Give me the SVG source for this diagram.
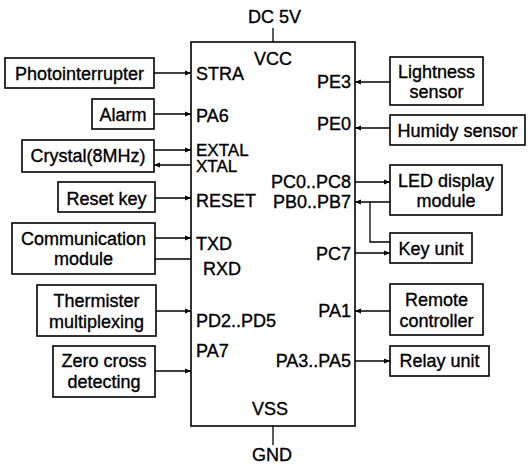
<svg xmlns="http://www.w3.org/2000/svg" width="528" height="465" viewBox="0 0 528 465">
<defs>
<style>
.box{fill:#fff;stroke:#000;stroke-width:1.6}
.ln{fill:none;stroke:#000;stroke-width:1.3}
.ar{fill:none;stroke:#000;stroke-width:1.3;marker-end:url(#ah)}
text{font-family:"Liberation Sans",Arial,Helvetica,sans-serif;font-size:18px;fill:#000;stroke:#000;stroke-width:0.35}
.c{text-anchor:middle}
.e{text-anchor:end}
.s{font-size:17px}
</style>
<marker id="ah" viewBox="0 0 10 10" refX="10" refY="5" markerWidth="6" markerHeight="6" markerUnits="userSpaceOnUse" orient="auto">
<path d="M0,1 L10,5 L0,9 Z" fill="#000"/>
</marker>
</defs>
<rect width="528" height="465" fill="#fff"/>

<g id="chip">
<rect x="191" y="42" width="164" height="384" class="box"/>
<text x="248" y="23">DC 5V</text>
<text x="254" y="65">VCC</text>
<text x="252" y="415">VSS</text>
<text x="252" y="461">GND</text>
<text x="196" y="80">STRA</text>
<text x="196" y="122">PA6</text>
<text x="196" y="156" class="s">EXTAL</text>
<text x="196" y="172" class="s">XTAL</text>
<text x="196" y="207">RESET</text>
<text x="196" y="250">TXD</text>
<text x="203" y="275">RXD</text>
<text x="196" y="327">PD2..PD5</text>
<text x="196" y="357">PA7</text>
<text x="351" y="88" class="e">PE3</text>
<text x="351" y="130" class="e">PE0</text>
<text x="351" y="188" class="e">PC0..PC8</text>
<text x="351" y="208" class="e">PB0..PB7</text>
<text x="351" y="260" class="e">PC7</text>
<text x="351" y="317" class="e">PA1</text>
<text x="351" y="367" class="e">PA3..PA5</text>
</g>

<g id="photointerrupter"><rect x="5" y="58" width="149" height="30" class="box"/><text x="79.5" y="80" class="c">Photointerrupter</text></g>
<g id="alarm"><rect x="92" y="99" width="62" height="30" class="box"/><text x="123" y="121" class="c">Alarm</text></g>
<g id="crystal"><rect x="22" y="140" width="132" height="32" class="box"/><text x="88" y="162" class="c">Crystal(8MHz)</text></g>
<g id="reset-key"><rect x="58" y="182" width="97" height="30" class="box"/><text x="106.5" y="205" class="c">Reset key</text></g>
<g id="communication"><rect x="12" y="223" width="143" height="51" class="box"/><text x="83.5" y="245" class="c">Communication</text><text x="83.5" y="265" class="c">module</text></g>
<g id="thermister"><rect x="37" y="285" width="119" height="51" class="box"/><text x="96.5" y="307" class="c">Thermister</text><text x="96.5" y="328" class="c">multiplexing</text></g>
<g id="zero-cross"><rect x="53" y="346" width="102" height="51" class="box"/><text x="104" y="367" class="c">Zero cross</text><text x="104" y="388" class="c">detecting</text></g>

<g id="lightness"><rect x="390" y="57" width="93" height="48" class="box"/><text x="436.5" y="78" class="c">Lightness</text><text x="436.5" y="98" class="c">sensor</text></g>
<g id="humidy"><rect x="390" y="115" width="135" height="30" class="box"/><text x="457.5" y="137" class="c">Humidy sensor</text></g>
<g id="led-display"><rect x="390" y="165" width="112" height="50" class="box"/><text x="446" y="187" class="c">LED display</text><text x="446" y="207" class="c">module</text></g>
<g id="key-unit"><rect x="390" y="233" width="82" height="30" class="box"/><text x="431" y="255" class="c">Key unit</text></g>
<g id="remote"><rect x="390" y="284" width="93" height="51" class="box"/><text x="436.5" y="306" class="c">Remote</text><text x="436.5" y="327" class="c">controller</text></g>
<g id="relay"><rect x="390" y="346" width="99" height="30" class="box"/><text x="439.5" y="367" class="c">Relay unit</text></g>

<g id="connectors">
<path d="M273,28 V42" class="ln"/>
<path d="M273,426 V445" class="ln"/>
<path d="M154,73 H191" class="ar"/>
<path d="M154,114 H191" class="ar"/>
<path d="M154,150 H191" class="ar"/>
<path d="M191,165 H154" class="ar"/>
<path d="M155,198 H191" class="ar"/>
<path d="M155,238 H191" class="ar"/>
<path d="M155,259 H191" class="ln"/>
<path d="M156,311 H191" class="ar"/>
<path d="M155,371 H191" class="ar"/>
<path d="M390,82 H355" class="ar"/>
<path d="M390,128 H355" class="ar"/>
<path d="M355,182 H390" class="ar"/>
<path d="M390,202 H355" class="ar"/>
<path d="M370,202 V242 H390" class="ln"/>
<path d="M355,253 H390" class="ar"/>
<path d="M390,311 H355" class="ar"/>
<path d="M355,361 H390" class="ar"/>
</g>
</svg>
